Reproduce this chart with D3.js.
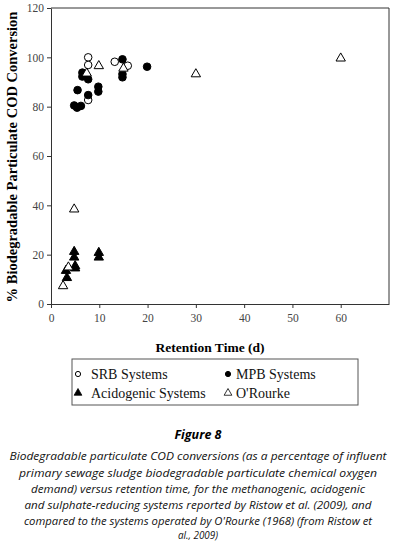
<!DOCTYPE html>
<html><head><meta charset="utf-8">
<script src="https://cdn.jsdelivr.net/npm/d3@7"></script>
<style>body{margin:0;background:#fff}svg{display:block}</style>
</head><body>
<script>
const srb = [[7.7,100],[7.7,96.9],[7.7,82.7],[13.2,98.2],[15.9,96.6]];
const mpb = [[4.8,80.5],[5.4,79.6],[6.2,80.3],[5.5,86.7],[6.5,93.8],[6.5,92.2],[7.7,91.1],[7.7,84.7],[9.8,88.1],[9.8,86.1],[14.8,99.2],[14.8,93.2],[14.8,91.9],[19.9,96.2]];
const acid = [[3.3,10.6],[3.1,13.5],[4.8,21.2],[4.8,18.9],[5,15.4],[5,14.5],[9.9,20.8],[9.9,18.9]];
const orourke = [[2.5,7.3],[3.6,14.9],[4.8,38.4],[7.4,93.5],[9.9,96.5],[15,95.5],[30,93.2],[60,99.6]];
const xTicks = [0,10,20,30,40,50,60];
const yTicks = [0,20,40,60,80,100,120];
const legendItems = ["SRB Systems","MPB Systems","Acidogenic Systems","O'Rourke"];
const captionTitle = "Figure 8";
const captionLines = [
 "Biodegradable particulate COD conversions (as a percentage of influent",
 "primary sewage sludge biodegradable particulate chemical oxygen",
 "demand) versus retention time, for the methanogenic, acidogenic",
 "and sulphate-reducing systems reported by Ristow et al. (2009), and",
 "compared to the systems operated by O'Rourke (1968) (from Ristow et",
 "al., 2009)"];
const captionWidths = [377,358,334,347,348,40];

const W=396,H=541;
const svg=d3.select("body").append("svg").attr("width",W).attr("height",H);
svg.append("rect").attr("width",W).attr("height",H).attr("fill","#fff");
const L=51,R=389,T=8,B=304;
const x=d3.scaleLinear().domain([0,70]).range([L,R]);
const y=d3.scaleLinear().domain([0,120]).range([B,T]);

// frame
svg.append("line").attr("x1",L).attr("x2",R).attr("y1",T).attr("y2",T).attr("stroke","#333");
svg.append("line").attr("x1",R).attr("x2",R).attr("y1",T).attr("y2",B).attr("stroke","#333");

const xa=svg.append("g").attr("transform",`translate(0,${B})`)
 .call(d3.axisBottom(x).tickValues(xTicks).tickSize(4).tickSizeOuter(0).tickPadding(6));
const ya=svg.append("g").attr("transform",`translate(${L},0)`)
 .call(d3.axisLeft(y).tickValues(yTicks).tickSize(4).tickSizeOuter(0).tickPadding(3));
[xa,ya].forEach(a=>{
 a.attr("font-family","Liberation Serif").attr("font-size",11.5);
 a.selectAll("path,line").attr("stroke","#333");
 a.selectAll("text").attr("fill","#444");
});

// titles
svg.append("text").attr("x",210).attr("y",352).attr("text-anchor","middle")
 .style("font-family","Liberation Serif").style("font-weight","bold").style("font-size","13.5px")
 .text("Retention Time (d)");
svg.append("text").attr("transform","translate(17,157) rotate(-90)").attr("text-anchor","middle")
 .style("font-family","Liberation Serif").style("font-weight","bold").style("font-size","14.5px")
 .text("% Biodegradable Particulate COD Conversion");

const tri=d3.symbol().type(d3.symbolTriangle).size(38);
function circles(data,fill){
 svg.append("g").selectAll("circle").data(data).join("circle")
  .attr("cx",d=>x(d[0])).attr("cy",d=>y(d[1])).attr("r",3.8)
  .attr("fill",fill).attr("stroke","#000").attr("stroke-width",1);
}
function tris(data,fill){
 svg.append("g").selectAll("path").data(data).join("path")
  .attr("d",tri).attr("transform",d=>`translate(${x(d[0])},${y(d[1])})`)
  .attr("fill",fill).attr("stroke","#000").attr("stroke-width",1);
}
circles(srb,"#fff");
circles(mpb,"#000");
tris(acid,"#000");
tris(orourke,"#fff");

// legend
svg.append("rect").attr("x",72).attr("y",359).attr("width",286).attr("height",46)
 .attr("fill","#fff").attr("stroke","#555");
const lg=[[78,374,"c","#fff"],[228,374,"c","#000"],[78,393,"t","#000"],[228,393,"t","#fff"]];
lg.forEach((p,i)=>{
 if(p[2]==="c") svg.append("circle").attr("cx",p[0]).attr("cy",p[1]).attr("r",2.6).attr("fill",p[3]).attr("stroke","#000");
 else svg.append("path").attr("d",d3.symbol().type(d3.symbolTriangle).size(26)).attr("transform",`translate(${p[0]},${p[1]})`).attr("fill",p[3]).attr("stroke","#000").attr("stroke-width",0.8);
 svg.append("text").attr("x",p[0]+(i%2? 8:13)).attr("y",p[1]+4.5)
  .style("font-family","Liberation Serif").style("font-size","14px").attr("fill","#111").text(legendItems[i]);
});

// caption
svg.append("text").attr("x",198).attr("y",439).attr("text-anchor","middle")
 .style("font-family","Open Sans").style("font-weight","bold").style("font-style","italic").style("font-size","12.5px")
 .text(captionTitle);
const base=[460,476.5,493,509,525,539];
captionLines.forEach((s,i)=>{
 svg.append("text").attr("x",198).attr("y",base[i]).attr("text-anchor","middle")
  .attr("textLength",captionWidths[i]).attr("lengthAdjust","spacingAndGlyphs")
  .style("font-family","Open Sans").style("font-style","italic").style("font-size","11.5px").attr("fill","#111")
  .text(s);
});
</script>
</body></html>
